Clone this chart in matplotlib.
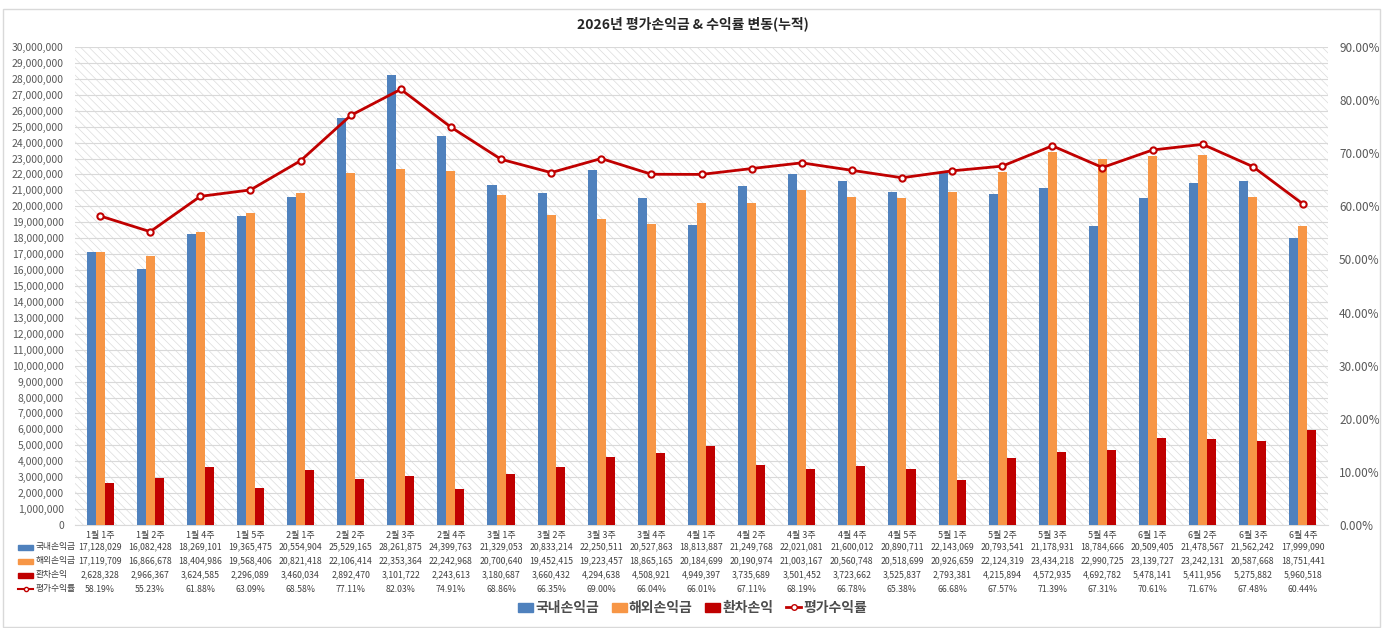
import matplotlib.pyplot as plt
import matplotlib.transforms as mtransforms
from matplotlib.patches import Rectangle, Patch
from matplotlib.lines import Line2D
from matplotlib.ticker import FuncFormatter, MultipleLocator
import numpy as np

plt.rcParams["font.family"] = ["Noto Sans CJK KR", "DejaVu Sans"]
plt.rcParams["hatch.color"] = "#DCDCDC"
plt.rcParams["hatch.linewidth"] = 0.5

# 데이터
주차 = ["1월 1주", "1월 2주", "1월 4주", "1월 5주", "2월 1주", "2월 2주", "2월 3주", "2월 4주",
      "3월 1주", "3월 2주", "3월 3주", "3월 4주", "4월 1주", "4월 2주", "4월 3주", "4월 4주",
      "4월 5주", "5월 1주", "5월 2주", "5월 3주", "5월 4주", "6월 1주", "6월 2주", "6월 3주", "6월 4주"]
국내손익금 = [17128029, 16082428, 18269101, 19365475, 20554904, 25529165, 28261875, 24399763,
          21329053, 20833214, 22250511, 20527863, 18813887, 21249768, 22021081, 21600012,
          20890711, 22143069, 20793541, 21178931, 18784666, 20509405, 21478567, 21562242, 17999090]
해외손익금 = [17119709, 16866678, 18404986, 19568406, 20821418, 22106414, 22353364, 22242968,
          20700640, 19452415, 19223457, 18865165, 20184699, 20190974, 21003167, 20560748,
          20518699, 20926659, 22124319, 23434218, 22990725, 23139727, 23242131, 20587668, 18751441]
환차손익 = [2628328, 2966367, 3624585, 2296089, 3460034, 2892470, 3101722, 2243613,
        3180687, 3660432, 4294638, 4508921, 4949397, 3735689, 3501452, 3723662,
        3525837, 2793381, 4215894, 4572935, 4692782, 5478141, 5411956, 5275882, 5960518]
평가수익률 = [58.19, 55.23, 61.88, 63.09, 68.58, 77.11, 82.03, 74.91, 68.86, 66.35, 69.00, 66.04,
         66.01, 67.11, 68.19, 66.78, 65.38, 66.68, 67.57, 71.39, 67.31, 70.61, 71.67, 67.48, 60.44]

파랑 = "#4F81BD"
주황 = "#F79646"
빨강 = "#C00000"
글자 = "#404040"

fig = plt.figure(figsize=(13.85, 6.28), dpi=100)
ax = fig.add_axes([75 / 1385, 1 - 525 / 628, 1253 / 1385, 478 / 628])
ax2 = ax.twinx()

x = np.arange(len(주차))
w = 0.18

# 빗금 배경
ax.add_patch(Rectangle((0, 0), 1, 1, transform=ax.transAxes, facecolor="white",
                       edgecolor="#DCDCDC", hatch="\\\\\\\\", linewidth=0, zorder=0))

ax.bar(x - w, 국내손익금, width=w, color=파랑, zorder=3)
ax.bar(x, 해외손익금, width=w, color=주황, zorder=3)
ax.bar(x + w, 환차손익, width=w, color=빨강, zorder=3)

ax2.plot(x, np.array(평가수익률) / 100, color=빨강, linewidth=2, marker="o", markersize=4.5,
         markerfacecolor="white", markeredgecolor=빨강, markeredgewidth=1.5, zorder=5)

ax.set_xlim(-0.5, len(주차) - 0.5)
ax.set_ylim(0, 30000000)
ax2.set_ylim(0, 0.9)
ax.yaxis.set_major_locator(MultipleLocator(1000000))
ax.yaxis.set_major_formatter(FuncFormatter(lambda v, p: f"{int(v):,}"))
ax2.yaxis.set_major_locator(MultipleLocator(0.1))
ax2.yaxis.set_major_formatter(FuncFormatter(lambda v, p: f"{v * 100:.2f}%"))
ax.grid(axis="y", color="#D9D9D9", linewidth=0.8, zorder=1)
ax.set_axisbelow(True)

ax.set_xticks(x)
ax.set_xticklabels(주차, fontsize=6.5, color=글자)
ax.tick_params(axis="x", length=0, pad=4)
ax.tick_params(axis="y", length=0, labelsize=7.5, labelcolor="#595959", pad=8)
ax2.tick_params(axis="y", length=0, labelsize=8.5, labelcolor="#595959", pad=8)
for a in (ax, ax2):
    for s in a.spines.values():
        s.set_visible(False)
ax.spines["bottom"].set_visible(True)
ax.spines["bottom"].set_color("#D9D9D9")

# 데이터 표
trans = mtransforms.blended_transform_factory(ax.transData, fig.transFigure)
행 = [("국내손익금", 국내손익금, 파랑, 547), ("해외손익금", 해외손익금, 주황, 561),
     ("환차손익", 환차손익, 빨강, 575)]
for 이름, 값들, 색, py in 행:
    yf = 1 - py / 628
    fig.patches.append(Rectangle((18 / 1385, yf - 2.5 / 628), 15 / 1385, 5 / 628,
                                 transform=fig.transFigure, color=색))
    fig.text(36 / 1385, yf, 이름, fontsize=6.3, color=글자, va="center", ha="left")
    for i, v in enumerate(값들):
        ax.text(i, yf, f"{v:,}", transform=trans, fontsize=6.3, color=글자,
                ha="center", va="center")
yf = 1 - 589 / 628
fig.add_artist(Line2D([18 / 1385, 33 / 1385], [yf, yf], transform=fig.transFigure,
                      color=빨강, linewidth=1.5))
fig.add_artist(Line2D([25.5 / 1385], [yf], transform=fig.transFigure, marker="o",
                      markersize=3, color=빨강, markerfacecolor="white"))
fig.text(36 / 1385, yf, "평가수익률", fontsize=6.3, color=글자, va="center", ha="left")
for i, v in enumerate(평가수익률):
    ax.text(i, yf, f"{v:.2f}%", transform=trans, fontsize=6.3, color=글자,
            ha="center", va="center")

fig.text(0.5, 1 - 24 / 628, "2026년 평가손익금 & 수익률 변동(누적)", fontsize=10,
         fontweight="bold", color="#262626", ha="center", va="center")

handles = [Patch(color=파랑, label="국내손익금"), Patch(color=주황, label="해외손익금"),
           Patch(color=빨강, label="환차손익"),
           Line2D([], [], color=빨강, linewidth=2, marker="o", markersize=4,
                  markerfacecolor="white", label="평가수익률")]
leg = fig.legend(handles=handles, loc="center", bbox_to_anchor=(0.5, 1 - 608 / 628), ncol=4,
                 frameon=False, prop={"size": 10, "weight": "bold"}, handlelength=1.1,
                 handleheight=0.6, handletextpad=0.15, columnspacing=0.9)
for t in leg.get_texts():
    t.set_color("#4D4D4D")

fig.patches.append(Rectangle((3 / 1385, 1 / 628), 1377 / 1385, 618 / 628, transform=fig.transFigure,
                             fill=False, edgecolor="#D9D9D9", linewidth=1))

fig.savefig("out.png", dpi=100)
